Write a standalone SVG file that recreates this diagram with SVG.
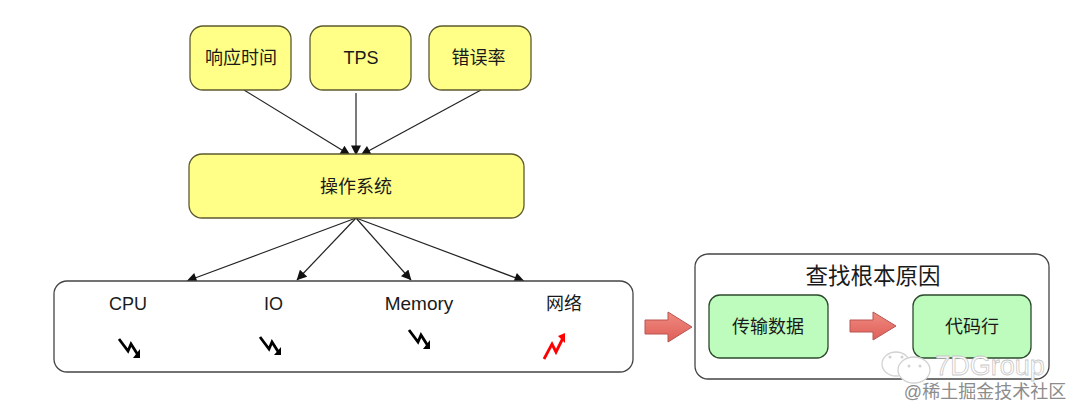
<svg xmlns="http://www.w3.org/2000/svg" width="1080" height="416" viewBox="0 0 1080 416">
<style>
text{font-family:"Liberation Sans","Noto Sans CJK SC",sans-serif;text-anchor:middle;fill:#1a1a1a}
.y{fill:#ffff88;stroke:#5c5a2e;stroke-width:1.3}
.g{fill:#bdfcbd;stroke:#2c4a2c;stroke-width:1.3}
.w{fill:#fff;stroke:#444;stroke-width:1.3}
.c{fill:none;stroke:#222;stroke-width:1.2;marker-end:url(#a)}
.t{font-size:18px}
.r{fill:url(#rg);stroke:#b85450;stroke-width:1}
.z{fill:none;stroke:#000;stroke-width:2.8}
.zh{fill:#000}
.wm{fill:#fff;stroke:#d2d2d2;stroke-width:1.3}
.d{fill:#d2d2d2}
</style>
<defs>
<marker id="a" viewBox="0 0 10 10" refX="9.5" refY="5" markerWidth="11" markerHeight="10" markerUnits="userSpaceOnUse" orient="auto"><path d="M0 0L10 5L0 10z" fill="#111"/></marker>
<linearGradient id="rg" x1="0" y1="0" x2="0" y2="1"><stop offset="0" stop-color="#f08a80"/><stop offset="1" stop-color="#de5f58"/></linearGradient>
</defs>
<g id="connectors">
<line class="c" x1="244" y1="90" x2="350" y2="155"/>
<line class="c" x1="356" y1="93" x2="356" y2="155"/>
<line class="c" x1="481" y1="90" x2="361" y2="155"/>
<line class="c" x1="356" y1="218" x2="187" y2="281"/>
<line class="c" x1="356" y1="218" x2="297" y2="280"/>
<line class="c" x1="356" y1="218" x2="411" y2="280"/>
<line class="c" x1="356" y1="218" x2="524" y2="281"/>
</g>
<g id="n-resp"><rect class="y" x="190" y="26" width="101" height="64" rx="13"/><text class="t" x="241" y="64">响应时间</text></g>
<g id="n-tps"><rect class="y" x="310" y="26" width="101" height="64" rx="13"/><text class="t" x="361" y="64">TPS</text></g>
<g id="n-err"><rect class="y" x="429" y="26" width="102" height="64" rx="13"/><text class="t" x="478.500" y="64">错误率</text></g>
<g id="n-os"><rect class="y" x="189" y="154" width="335" height="64" rx="13"/><text class="t" x="356" y="193">操作系统</text></g>
<g id="n-res">
<rect class="w" x="54" y="281" width="579" height="91" rx="13"/>
<text class="t" x="128" y="310">CPU</text>
<text class="t" x="273.500" y="310">IO</text>
<text x="419" y="310" font-size="19">Memory</text>
<text class="t" x="564" y="310">网络</text>
<path class="z" d="M119 339L128 351L131 344L138 355"/><path class="zh" d="M133 358L140 349L140 358z"/>
<path class="z" d="M260 337L269 349L272 342L279 353"/><path class="zh" d="M274 355L281 347L281 355z"/>
<path class="z" d="M409 330L418 342L421 335L428 346"/><path class="zh" d="M423 349L430 340L430 349z"/>
<path d="M544 359L552 344L556 352L563 338" fill="none" stroke="#f00" stroke-width="2.8"/><path d="M558 336L565 333L565 343z" fill="#f00"/>
</g>
<g id="arrow-1"><path class="r" d="M645 320H668V312L692 327L668 342V334H645z"/></g>
<g id="n-root">
<rect class="w" x="695" y="254" width="354" height="125" rx="13"/>
<text x="873" y="284" font-size="22.500">查找根本原因</text>
</g>
<g id="n-data"><rect class="g" x="709" y="295" width="119" height="63" rx="11"/><text class="t" x="768" y="333">传输数据</text></g>
<g id="arrow-2"><path class="r" d="M850 320H873V312L896 326L873 340V332H850z"/></g>
<g id="n-code"><rect class="g" x="913" y="295" width="118" height="63" rx="11"/><text class="t" x="972" y="333">代码行</text></g>
<g id="watermark">
<ellipse class="wm" cx="896" cy="364" rx="14" ry="12"/>
<ellipse class="wm" cx="914" cy="370" rx="16" ry="13"/>
<circle class="d" cx="890" cy="357" r="1.500"/><circle class="d" cx="902" cy="357" r="1.500"/>
<circle class="d" cx="909" cy="366" r="1.500"/><circle class="d" cx="920" cy="366" r="1.500"/>
<text x="990" y="375" font-size="27" style="fill:#fff;stroke:#c8c8c8;stroke-width:.8">7DGroup</text>
<text x="985" y="398" font-size="18" style="fill:#8c8c8c">@稀土掘金技术社区</text>
</g>
</svg>
